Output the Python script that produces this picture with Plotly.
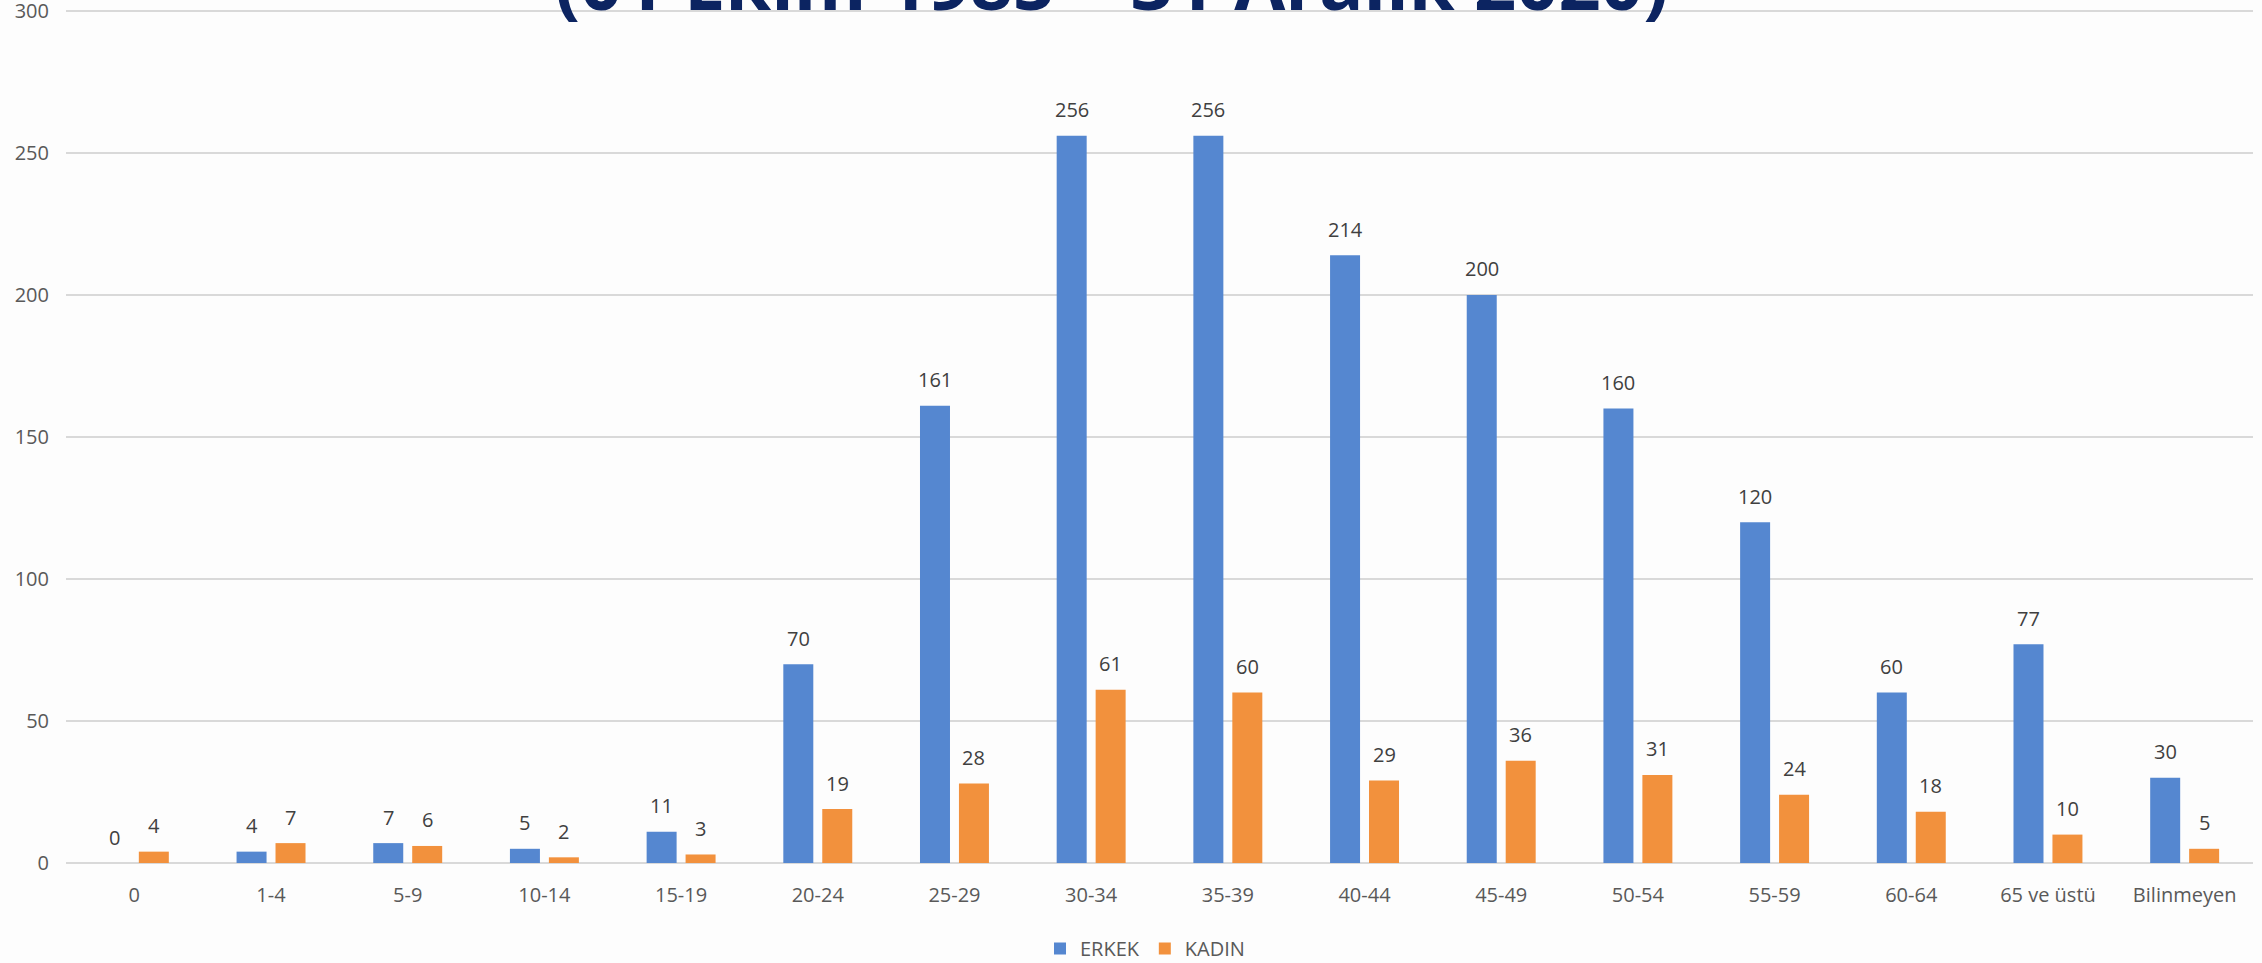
import plotly.graph_objects as go

categories = ["0", "1-4", "5-9", "10-14", "15-19", "20-24", "25-29", "30-34",
              "35-39", "40-44", "45-49", "50-54", "55-59", "60-64", "65 ve üstü", "Bilinmeyen"]
erkek = [0, 4, 7, 5, 11, 70, 161, 256, 256, 214, 200, 160, 120, 60, 77, 30]
kadin = [4, 7, 6, 2, 3, 19, 28, 61, 60, 29, 36, 31, 24, 18, 10, 5]
y_ticks = [0, 50, 100, 150, 200, 250, 300]
title_text = "(01 Ekim 1985 – 31 Aralık 2020)"

BLUE = "#5587d0"
ORANGE = "#f2913d"
FONT = "Open Sans"

fig = go.Figure()
fig.add_trace(go.Bar(x=categories, y=erkek, name="ERKEK", marker_color=BLUE,
                     marker_line_width=0))
fig.add_trace(go.Bar(x=categories, y=kadin, name="KADIN", marker_color=ORANGE,
                     marker_line_width=0))

# data labels
for c, v in zip(categories, erkek):
    fig.add_annotation(x=c, y=v, xref="x", yref="y", text=str(v), showarrow=False,
                       xshift=-19.5, yshift=26, yanchor="middle",
                       font=dict(family=FONT, size=20, color="#404040"))
for c, v in zip(categories, kadin):
    fig.add_annotation(x=c, y=v, xref="x", yref="y", text=str(v), showarrow=False,
                       xshift=19.5, yshift=26, yanchor="middle",
                       font=dict(family=FONT, size=20, color="#404040"))

# cut-off title
fig.add_annotation(x=(1111 - 66) / 2187, y=(863 - 34) / 855, xref="paper", yref="paper",
                   text="<b>" + title_text + "</b>", showarrow=False,
                   xanchor="center", yanchor="bottom",
                   font=dict(family=FONT, size=74, color="#0c2461"))

fig.update_layout(
    width=2262, height=963,
    margin=dict(l=66, r=9, t=8, b=100, autoexpand=False),
    paper_bgcolor="#fdfdfd", plot_bgcolor="rgba(0,0,0,0)",
    barmode="group", bargap=0.43, bargroupgap=0.23,
    font=dict(family=FONT, size=20, color="#595959"),
    showlegend=True,
    legend=dict(orientation="h", x=(1145 - 66) / 2187, xanchor="center",
                y=-0.10, yanchor="middle", font=dict(family=FONT, size=20, color="#595959"),
                itemwidth=30, bgcolor="rgba(0,0,0,0)"),
)
fig.update_xaxes(showgrid=False, showline=False, zeroline=False,
                 ticks="outside", ticklen=14, tickcolor="rgba(0,0,0,0)",
                 tickfont=dict(family=FONT, size=20, color="#595959"))
fig.update_yaxes(range=[0, 301], tickvals=y_ticks,
                 showgrid=True, gridcolor="#d9d9d9", gridwidth=1.5,
                 zeroline=True, zerolinecolor="#d9d9d9", zerolinewidth=2,
                 showline=False, ticklabelstandoff=16, ticklabeloverflow="allow",
                 tickfont=dict(family=FONT, size=20, color="#595959"))

fig.write_html("out.html", config={"displayModeBar": False},
               post_script="document.body.style.margin='0';")
